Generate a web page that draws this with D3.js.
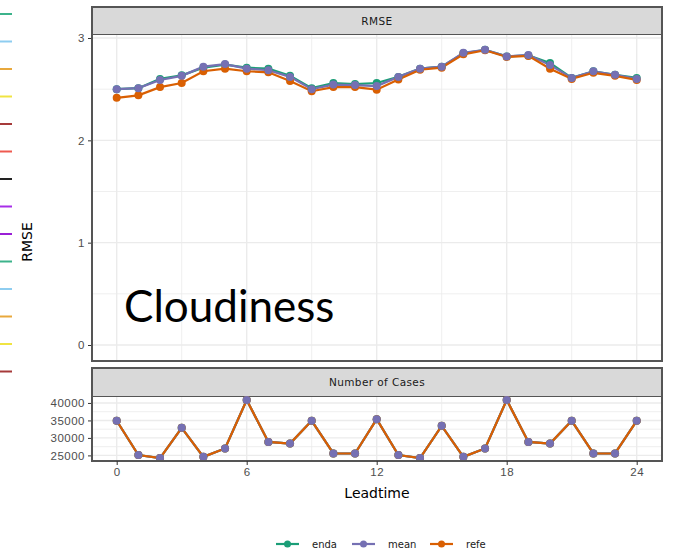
<!DOCTYPE html>
<html>
<head>
<meta charset="utf-8">
<script src="https://cdn.jsdelivr.net/npm/d3@7"></script>
<style>
  body { margin: 0; background: #fff; }
  svg { display: block; font-family: "DejaVu Sans", sans-serif; }
  .tick text { fill: #4d4d4d; }
</style>
</head>
<body>
<div id="chart"></div>
<script>
var width = 677,
    height = 552;

var leadtime = d3.range(0, 25);
var series = ["enda", "mean", "refe"];
var colors = ["#1b9e77", "#7570b3", "#d95f02"];

var rmseEnda = [2.50, 2.51, 2.60, 2.635, 2.71, 2.74, 2.71, 2.70, 2.63, 2.51, 2.56, 2.55, 2.56,
                2.62, 2.70, 2.72, 2.85, 2.885, 2.82, 2.83, 2.755, 2.61, 2.675, 2.64, 2.61];
var rmseMean = [2.50, 2.51, 2.59, 2.63, 2.72, 2.745, 2.70, 2.685, 2.62, 2.50, 2.545, 2.54, 2.53,
                2.62, 2.70, 2.72, 2.855, 2.885, 2.82, 2.835, 2.735, 2.61, 2.675, 2.64, 2.60];
var rmseRefe = [2.415, 2.44, 2.52, 2.56, 2.675, 2.70, 2.675, 2.665, 2.58, 2.48, 2.52, 2.52, 2.495,
                2.595, 2.69, 2.71, 2.84, 2.88, 2.815, 2.825, 2.70, 2.60, 2.66, 2.63, 2.59];
var cases = [34900, 25100, 24250, 32900, 24600, 27000, 40850, 28850, 28400, 34900, 25550, 25550, 35350,
             25100, 24250, 33450, 24600, 27000, 40850, 28850, 28400, 34900, 25550, 25550, 34900];

var rmseTicks = [0, 1, 2, 3];
var caseTicks = [25000, 30000, 35000, 40000];
var xTicks = [0, 6, 12, 18, 24];

// stray legend keys cut off at the left edge
var strayColors = ["#3cb38b", "#8ecdf0", "#e8a83c", "#f0e442", "#a63a3a", "#ee5a50", "#222222",
                   "#a72ee8", "#9a1fd6", "#3cb38b", "#8ecdf0", "#e8a83c", "#f0e442", "#a63a3a"];

var rmse = { enda: rmseEnda, mean: rmseMean, refe: rmseRefe };

var panelL = 92, panelR = 662;

var x = d3.scaleLinear().domain([0, 24]).range([116.7, 636.7]);
var y1 = d3.scaleLinear().domain([0, 3]).range([345, 38]);
var y2 = d3.scaleLinear().domain([23400, 41700]).range([461, 397]);

var svg = d3.select("#chart").append("svg")
  .attr("width", width)
  .attr("height", height);

svg.selectAll(".stray")
  .data(strayColors)
  .enter().append("line")
  .attr("x1", 0).attr("x2", 12)
  .attr("y1", function(d, i) { return 14 + i * 27.5; })
  .attr("y2", function(d, i) { return 14 + i * 27.5; })
  .attr("stroke", function(d) { return d; })
  .attr("stroke-width", 2);

function drawPanel(top, bottom, stripTop, label, yScale, yTicks, minorTicks) {
  var g = svg.append("g");
  g.append("rect")
    .attr("x", panelL).attr("y", stripTop)
    .attr("width", panelR - panelL).attr("height", top - stripTop)
    .attr("fill", "#d9d9d9").attr("stroke", "#555").attr("stroke-width", 2);
  g.append("text")
    .attr("x", (panelL + panelR) / 2).attr("y", (stripTop + top) / 2)
    .attr("dy", "0.35em").attr("text-anchor", "middle")
    .attr("font-size", 10.5).attr("letter-spacing", 0.4).attr("fill", "#1a1a1a")
    .text(label);

  g.append("rect")
    .attr("x", panelL).attr("y", top)
    .attr("width", panelR - panelL).attr("height", bottom - top)
    .attr("fill", "#fff");

  var xMinor = [3, 9, 15, 21];
  g.selectAll(".vgrid")
    .data(xTicks.concat(xMinor))
    .enter().append("line")
    .attr("x1", x).attr("x2", x)
    .attr("y1", top).attr("y2", bottom)
    .attr("stroke", "#ebebeb")
    .attr("stroke-width", function(d) { return xTicks.indexOf(d) >= 0 ? 1.4 : 0.8; });

  g.selectAll(".hgrid")
    .data(yTicks.concat(minorTicks))
    .enter().append("line")
    .attr("x1", panelL).attr("x2", panelR)
    .attr("y1", yScale).attr("y2", yScale)
    .attr("stroke", "#ebebeb")
    .attr("stroke-width", function(d) { return yTicks.indexOf(d) >= 0 ? 1.4 : 0.8; });

  var axis = g.append("g")
    .attr("transform", "translate(" + panelL + ",0)")
    .call(d3.axisLeft(yScale).tickValues(yTicks).tickSize(4).tickPadding(3).tickFormat(d3.format("d")));
  axis.select(".domain").remove();
  axis.selectAll(".tick line").attr("stroke", "#333");
  axis.selectAll(".tick text").attr("font-size", 11.5).attr("letter-spacing", 0.5);
  return g;
}

drawPanel(35, 361, 7, "RMSE", y1, rmseTicks, [0.5, 1.5, 2.5]);
drawPanel(397, 461, 368, "Number of Cases", y2, caseTicks, [27500, 32500, 37500]);

var line1 = d3.line()
  .x(function(d, i) { return x(leadtime[i]); })
  .y(function(d) { return y1(d); });

var line2 = d3.line()
  .x(function(d, i) { return x(leadtime[i]); })
  .y(function(d) { return y2(d); });

series.forEach(function(s, k) {
  svg.append("path")
    .attr("d", line1(rmse[s]))
    .attr("fill", "none")
    .attr("stroke", colors[k])
    .attr("stroke-width", 2.2);
  svg.append("path")
    .attr("d", line2(cases))
    .attr("fill", "none")
    .attr("stroke", colors[k])
    .attr("stroke-width", 2.2);
});

[0, 2, 1].forEach(function(k) {
  var s = series[k];
  svg.selectAll(".p1" + s)
    .data(rmse[s])
    .enter().append("circle")
    .attr("cx", function(d, i) { return x(leadtime[i]); })
    .attr("cy", y1)
    .attr("r", 4)
    .attr("fill", colors[k]);
  svg.selectAll(".p2" + s)
    .data(cases)
    .enter().append("circle")
    .attr("cx", function(d, i) { return x(leadtime[i]); })
    .attr("cy", y2)
    .attr("r", 4)
    .attr("fill", colors[k]);
});

// panel borders on top
[[7, 361], [368, 461]].forEach(function(p) {
  svg.append("rect")
    .attr("x", panelL).attr("y", p[0])
    .attr("width", panelR - panelL).attr("height", p[1] - p[0])
    .attr("fill", "none").attr("stroke", "#555").attr("stroke-width", 2);
});

var xAxis = svg.append("g")
  .attr("transform", "translate(0,461)")
  .call(d3.axisBottom(x).tickValues(xTicks).tickSize(4).tickPadding(3));
xAxis.select(".domain").remove();
xAxis.selectAll(".tick line").attr("stroke", "#333");
xAxis.selectAll(".tick text").attr("font-size", 11.5).attr("letter-spacing", 0.5);

svg.append("text")
  .attr("x", 377).attr("y", 498)
  .attr("text-anchor", "middle")
  .attr("font-size", 14)
  .text("Leadtime");

svg.append("text")
  .attr("transform", "translate(32,242) rotate(-90)")
  .attr("text-anchor", "middle")
  .attr("font-size", 14)
  .text("RMSE");

svg.append("text")
  .attr("x", 124).attr("y", 322)
  .attr("font-family", "Lato, 'Open Sans', sans-serif")
  .attr("font-size", 44)
  .attr("fill", "#000")
  .text("Cloudiness");

// legend
var legend = svg.append("g").attr("transform", "translate(276,544)");
var legX = [0, 76, 154];
series.forEach(function(s, k) {
  var lg = legend.append("g").attr("transform", "translate(" + legX[k] + ",0)");
  lg.append("line").attr("x1", 0).attr("x2", 23).attr("y1", 0).attr("y2", 0)
    .attr("stroke", colors[k]).attr("stroke-width", 2.2);
  lg.append("circle").attr("cx", 11.5).attr("cy", 0).attr("r", 3.5).attr("fill", colors[k]);
  lg.append("text").attr("x", 36).attr("dy", "0.35em")
    .attr("font-size", 10).attr("fill", "#1a1a1a")
    .text(s);
});
</script>
</body>
</html>
